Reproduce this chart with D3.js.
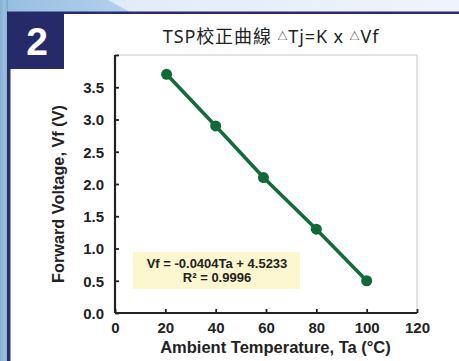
<!DOCTYPE html>
<html><head><meta charset="utf-8">
<script src="https://cdn.jsdelivr.net/npm/d3@7"></script>
<style>html,body{margin:0;padding:0;background:#fff;}svg{display:block;}</style>
</head><body>
<script>
const temps = [20.5, 40, 59, 80, 100];
const vf = [3.7, 2.9, 2.1, 1.3, 0.5];
const xTicks = [0, 20, 40, 60, 80, 100, 120];
const yTicks = [0, 0.5, 1, 1.5, 2, 2.5, 3, 3.5, 4];
const title = "TSP校正曲線 ";
const eqLines = ["Vf = -0.0404Ta + 4.5233", "R² = 0.9996"];
const xTitle = "Ambient Temperature, Ta (°C)";
const yTitle = "Forward Voltage, Vf (V)";

const W = 459, H = 361;
const svg = d3.select("body").append("svg").attr("width", W).attr("height", H);
const defs = svg.append("defs");
const g1 = defs.append("linearGradient").attr("id","topg").attr("x1",0).attr("x2",1);
g1.append("stop").attr("offset",0).attr("stop-color","#dde9f6");
g1.append("stop").attr("offset",1).attr("stop-color","#eef4fb");
const g2 = defs.append("linearGradient").attr("id","leftg").attr("x1",0).attr("x2",1);
g2.append("stop").attr("offset",0).attr("stop-color","#86aed3");
g2.append("stop").attr("offset",0.6).attr("stop-color","#9cc0df");
g2.append("stop").attr("offset",1).attr("stop-color","#7fa6cc");
const g3 = defs.append("linearGradient").attr("id","tlg").attr("x1",0).attr("x2",1);
g3.append("stop").attr("offset",0).attr("stop-color","#96bde2");
g3.append("stop").attr("offset",1).attr("stop-color","#b2d1ee");

svg.append("rect").attr("width",W).attr("height",H).attr("fill","#fff");
svg.append("rect").attr("x",0).attr("y",0).attr("width",W).attr("height",12).attr("fill","url(#topg)");
svg.append("polygon").attr("points","0,0 108,0 130,12 0,12").attr("fill","url(#tlg)");
svg.append("rect").attr("x",0).attr("y",0).attr("width",8).attr("height",H).attr("fill","url(#leftg)");
svg.append("rect").attr("x",7).attr("y",11.5).attr("width",W-7).attr("height",2.5).attr("fill","#2b2c6c");
svg.append("rect").attr("x",7).attr("y",12).attr("width",3).attr("height",H-12).attr("fill","#2b2c6c");
svg.append("rect").attr("x",10).attr("y",14).attr("width",1).attr("height",H-14).attr("fill","#8f93c4");
svg.append("rect").attr("x",7).attr("y",12).attr("width",57).attr("height",57).attr("fill","#272a68");
svg.append("text").attr("x",37).attr("y",55).attr("text-anchor","middle")
  .attr("font-family","Liberation Sans, Arial, sans-serif").attr("font-weight","bold")
  .attr("font-size",39).attr("fill","#fff").text("2");

// Title
const t = svg.append("text").attr("x",271).attr("y",43).attr("text-anchor","middle")
  .attr("font-family","'Noto Sans', 'Noto Sans CJK TC', sans-serif").attr("font-size",18)
  .attr("letter-spacing","0.9px").attr("fill","#222");
t.append("tspan").text(title);
t.append("tspan").attr("font-size",10).attr("dy",-3).text("△");
t.append("tspan").attr("dy",3).text("Tj=K x ");
t.append("tspan").attr("font-size",10).attr("dy",-3).text("△");
t.append("tspan").attr("dy",3).text("Vf");

const x = d3.scaleLinear().domain([0,120]).range([115,417]);
const y = d3.scaleLinear().domain([0,4]).range([313,55]);
const font = "Liberation Sans, Arial, sans-serif";

// plot border (gray top/right)
svg.append("path").attr("d",`M${x(0)},${y(4)}H${x(120)}V${y(0)}`).attr("fill","none").attr("stroke","#c8c8c8").attr("stroke-width",1);

// equation box
svg.append("rect").attr("x",133).attr("y",252).attr("width",167).attr("height",37).attr("fill","#fdf7cf");
svg.selectAll("text.eq").data(eqLines).enter().append("text").attr("class","eq")
  .attr("x",217).attr("y",(d,i)=>267.5+i*14.5).attr("text-anchor","middle")
  .attr("font-family",font).attr("font-weight","bold").attr("font-size",13).attr("fill","#222").text(d=>d);

// axes
const xAxis = svg.append("g").attr("transform",`translate(0,${y(0)})`)
  .call(d3.axisBottom(x).tickValues(xTicks).tickSize(-4).tickPadding(9).tickFormat(d3.format("d")));
const yAxis = svg.append("g").attr("transform",`translate(${x(0)},0)`)
  .call(d3.axisLeft(y).tickValues(yTicks).tickSize(-4).tickPadding(11).tickFormat(d=> d===4? "" : d3.format(".1f")(d)));
[xAxis,yAxis].forEach(a=>{
  a.select(".domain").attr("stroke","#222").attr("stroke-width",2.2);
  a.selectAll(".tick line").attr("stroke","#222").attr("stroke-width",1.8);
  a.selectAll(".tick text").attr("font-family",font).attr("font-weight","bold").attr("font-size",15).attr("fill","#222");
});
xAxis.select(".domain").attr("d",`M${x(0)},0H${x(120)}`);
yAxis.select(".domain").attr("d",`M0,${y(0)}V${y(4)}`);
yAxis.selectAll(".tick text").attr("dy","0.36em");

// axis titles
svg.append("text").attr("x",275.5).attr("y",353).attr("text-anchor","middle")
  .attr("font-family",font).attr("font-weight","bold").attr("font-size",16.5).attr("fill","#222").text(xTitle);
svg.append("text").attr("transform",`translate(64,194) rotate(-90)`).attr("text-anchor","middle")
  .attr("font-family",font).attr("font-weight","bold").attr("font-size",16.3).attr("fill","#222").text(yTitle);

// series
const pts = temps.map((d,i)=>[d, vf[i]]);
svg.append("path").datum(pts).attr("d", d3.line().x(d=>x(d[0])).y(d=>y(d[1])))
  .attr("fill","none").attr("stroke","#146b3a").attr("stroke-width",3.6);
svg.selectAll("circle.pt").data(pts).enter().append("circle").attr("class","pt")
  .attr("cx",d=>x(d[0])).attr("cy",d=>y(d[1])).attr("r",5.5).attr("fill","#0f6a38");
</script>
</body></html>
